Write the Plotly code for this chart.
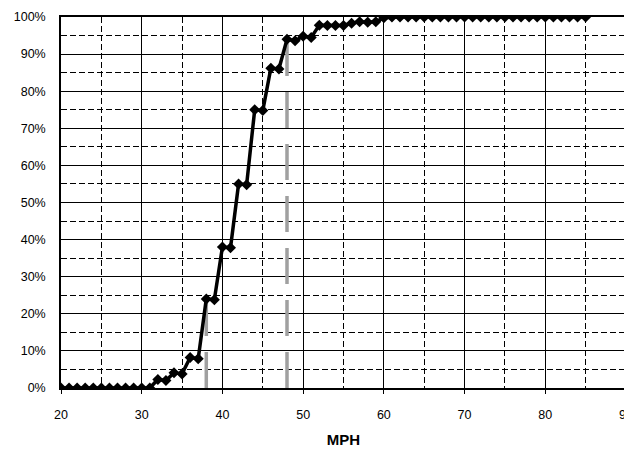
import plotly.graph_objects as go

mph = list(range(20, 86))
cum_pct = [0]*12 + [2.3, 2.0, 4.1, 3.8, 8.2, 7.9, 24.0, 23.8, 38.0, 37.8,
                    55.0, 54.8, 75.0, 74.8, 86.2, 86.0, 94.0, 93.6, 94.8, 94.5,
                    97.8, 97.7, 97.7, 97.7, 98.3, 98.7, 98.6, 98.7, 99.8] + [100.0]*25
cum_frac = [v/100 for v in cum_pct]

ref_speeds = [38, 48]
ref_levels = [24.0, 94.0]

x_ticks = [20, 30, 40, 50, 60, 70, 80, 90]
y_ticks = [i/10 for i in range(11)]
y_labels = [f"{i*10}%" for i in range(11)]

fig = go.Figure()

gx, gy = [], []
for s, l in zip(ref_speeds, ref_levels):
    gx += [s, s, None]
    gy += [0, l/100, None]
fig.add_trace(go.Scatter(x=gx, y=gy, mode="lines",
                         line=dict(color="#a0a0a0", width=3.5, dash="36px,16px"),
                         hoverinfo="skip", showlegend=False))

fig.add_trace(go.Scatter(x=mph, y=cum_frac, mode="lines+markers",
                         line=dict(color="black", width=3.5),
                         marker=dict(symbol="diamond", size=8.5, color="black"),
                         showlegend=False))

# page body has an 8px default margin, so margins are offset by 8px
fig.update_layout(
    width=632, height=455,
    margin=dict(l=53, r=14, t=9, b=75),
    paper_bgcolor="white", plot_bgcolor="white",
    font=dict(family="Liberation Sans, Arial, sans-serif", color="black", size=12),
)
fig.update_xaxes(
    range=[20, 90], tickvals=x_ticks, ticktext=[str(v) for v in x_ticks],
    showgrid=True, gridcolor="black", gridwidth=1.3,
    minor=dict(dtick=5, tick0=0, showgrid=True, gridcolor="black", griddash="6px,3px", gridwidth=1),
    showline=True, linecolor="black", linewidth=1.5, mirror=True,
    ticks="outside", ticklen=4, tickcolor="black", ticklabelstandoff=10,
    ticklabeloverflow="allow",
    zeroline=False, automargin=False,
    title=dict(text="<b>MPH</b>", font=dict(size=15), standoff=14),
    tickfont=dict(size=12.5),
)
fig.update_yaxes(
    range=[0, 1], tickvals=y_ticks, ticktext=y_labels,
    showgrid=True, gridcolor="black", gridwidth=1.3,
    minor=dict(dtick=0.05, tick0=0, showgrid=True, gridcolor="black", griddash="6px,3px", gridwidth=1),
    showline=True, linecolor="black", linewidth=1.5, mirror=True,
    ticks="", ticklabelstandoff=11,
    zeroline=False, automargin=False,
    tickfont=dict(size=12.5),
)

fig.write_html("out.html")
